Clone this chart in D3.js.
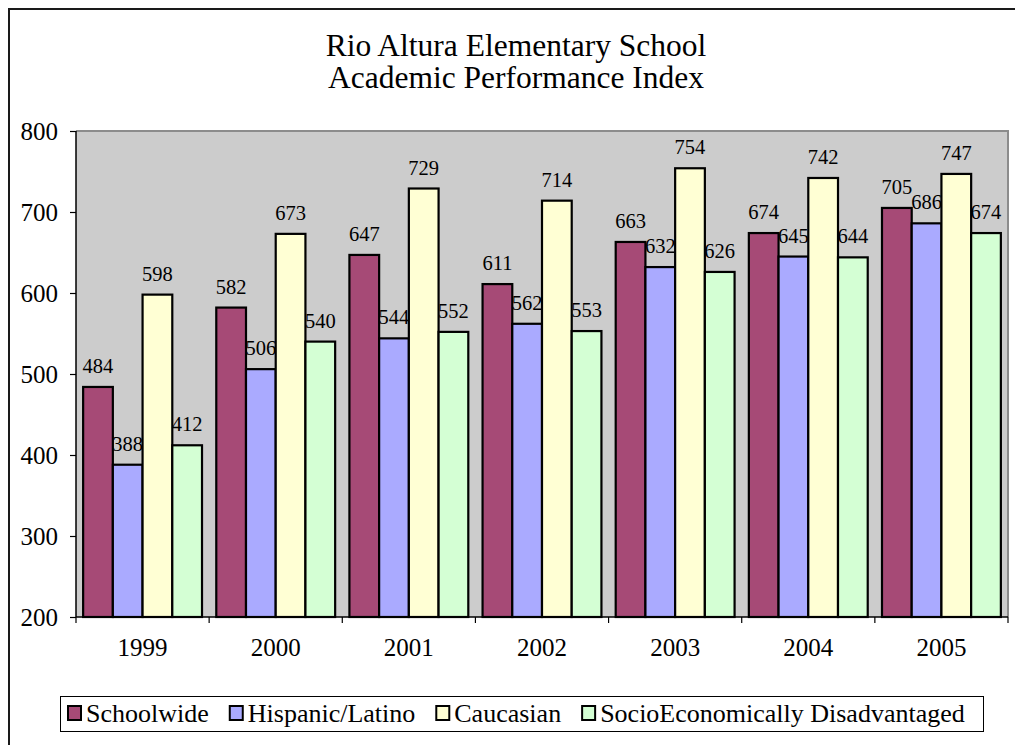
<!DOCTYPE html>
<html>
<head>
<meta charset="utf-8">
<script src="https://cdn.jsdelivr.net/npm/d3@7"></script>
<style>
    body { margin: 0; background: #fff; }
    svg { display: block; font-family: 'Liberation Serif', 'Times New Roman', serif; }
</style>
</head>
<body>
<div id="vis"></div>
<script>
const YEARS = ['1999', '2000', '2001', '2002', '2003', '2004', '2005']

const SERIES = ['Schoolwide', 'Hispanic/Latino', 'Caucasian', 'SocioEconomically Disadvantaged']

const SCHOOLWIDE = [484, 582, 647, 611, 663, 674, 705]
const HISPANIC = [388, 506, 544, 562, 632, 645, 686]
const CAUCASIAN = [598, 673, 729, 714, 754, 742, 747]
const SED = [412, 540, 552, 553, 626, 644, 674]

const Y_TICKS = [200, 300, 400, 500, 600, 700, 800]

const COLORS = ['#a64a76', '#aaaaff', '#ffffd4', '#d4ffd4']

function renderSvg() {
    return d3.select('#vis')
        .append('svg')
        .attr('width', 1015)
        .attr('height', 745)
}

function renderChart(svg) {
    let plot = {left: 76, right: 1008, top: 131, bottom: 617}
    let values = [SCHOOLWIDE, HISPANIC, CAUCASIAN, SED]

    // outer frame (runs off the right and bottom edges)
    svg.append('path')
        .attr('d', 'M9,760 V9 H1030')
        .attr('fill', 'none')
        .attr('stroke', '#1a1a1a')
        .attr('stroke-width', 2)

    let title = svg.append('text')
        .attr('text-anchor', 'middle')
        .attr('font-size', '31.5px')
        .attr('fill', '#000')
    title.append('tspan').attr('x', 516).attr('y', 56).text('Rio Altura Elementary School')
    title.append('tspan').attr('x', 516).attr('y', 88).text('Academic Performance Index')

    let x = d3.scaleBand()
        .domain(YEARS)
        .range([plot.left, plot.right])
        .paddingInner(0)

    let x1 = d3.scaleBand()
        .domain(SERIES)
        .range([0, x.bandwidth()])
        .paddingInner(0)
        .paddingOuter(0.24)

    let y = d3.scaleLinear()
        .domain([200, 800])
        .range([plot.bottom, plot.top])

    // plot area
    svg.append('rect')
        .attr('x', plot.left)
        .attr('y', plot.top)
        .attr('width', plot.right - plot.left)
        .attr('height', plot.bottom - plot.top)
        .attr('fill', '#cccccc')
    svg.append('path')
        .attr('d', `M${plot.left},${plot.top} H${plot.right} V${plot.bottom}`)
        .attr('fill', 'none')
        .attr('stroke', '#8c8c8c')
        .attr('stroke-width', 2)

    // bars
    let groups = svg.append('g')
        .selectAll('g')
        .data(YEARS)
        .enter().append('g')
        .attr('transform', d => `translate(${x(d)},0)`)

    groups.each(function (year, i) {
        let g = d3.select(this)
        let rows = SERIES.map((s, k) => ({series: s, value: values[k][i], color: COLORS[k]}))

        g.selectAll('rect')
            .data(rows)
            .enter().append('rect')
            .attr('x', d => x1(d.series))
            .attr('y', d => y(d.value))
            .attr('width', x1.bandwidth())
            .attr('height', d => y(200) - y(d.value))
            .attr('fill', d => d.color)
            .attr('stroke', '#000')
            .attr('stroke-width', 2.2)
    })

    groups.each(function (year, i) {
        let g = d3.select(this)
        let rows = SERIES.map((s, k) => ({series: s, value: values[k][i]}))

        g.selectAll('text')
            .data(rows)
            .enter().append('text')
            .attr('x', d => x1(d.series) + x1.bandwidth() / 2)
            .attr('y', d => y(d.value) - 14)
            .attr('text-anchor', 'middle')
            .attr('font-size', '20.5px')
            .attr('fill', '#000')
            .text(d => d.value)
    })

    // y axis
    let yAxis = d3.axisLeft(y)
        .tickValues(Y_TICKS)
        .tickSize(6)
        .tickPadding(12)
    let gy = svg.append('g')
        .attr('transform', `translate(${plot.left},0)`)
        .call(yAxis)
    gy.select('.domain').attr('stroke', '#000').attr('stroke-width', 1.5)
        .attr('d', `M0,${plot.top} V${plot.bottom}`)
    gy.selectAll('.tick line').attr('stroke', '#000').attr('stroke-width', 1.2)
    gy.selectAll('.tick text')
        .attr('font-family', 'Liberation Serif, Times New Roman, serif')
        .attr('font-size', '25px')
        .attr('fill', '#000')
        .attr('dy', '0.34em')

    // x axis
    let xAxis = d3.axisBottom(x).tickSize(0).tickPadding(0)
    let gx = svg.append('g')
        .attr('transform', `translate(0,${plot.bottom})`)
        .call(xAxis)
    gx.select('.domain').attr('stroke', '#000').attr('stroke-width', 1.5)
        .attr('d', `M${plot.left},0 H${plot.right}`)
    gx.selectAll('.tick line').remove()
    gx.selectAll('.tick text')
        .attr('font-family', 'Liberation Serif, Times New Roman, serif')
        .attr('font-size', '25px')
        .attr('fill', '#000')
        .attr('y', 39)
        .attr('dy', 0)
    gx.selectAll('.sep')
        .data(YEARS.concat(['end']))
        .enter().append('line')
        .attr('class', 'sep')
        .attr('x1', (d, i) => i < YEARS.length ? x(d) : plot.right)
        .attr('x2', (d, i) => i < YEARS.length ? x(d) : plot.right)
        .attr('y1', 0)
        .attr('y2', 6)
        .attr('stroke', '#000')
        .attr('stroke-width', 1.2)

    // legend
    let legend = svg.append('g')
    legend.append('rect')
        .attr('x', 60.5)
        .attr('y', 696.5)
        .attr('width', 923)
        .attr('height', 35)
        .attr('fill', '#fff')
        .attr('stroke', '#000')
        .attr('stroke-width', 1)

    let cx = 67
    SERIES.forEach((s, k) => {
        legend.append('rect')
            .attr('x', cx + 1)
            .attr('y', 706)
            .attr('width', 13)
            .attr('height', 14)
            .attr('fill', COLORS[k])
            .attr('stroke', '#000')
            .attr('stroke-width', 2)
        let t = legend.append('text')
            .attr('x', cx + 19)
            .attr('y', 722)
            .attr('font-size', '26px')
            .attr('fill', '#000')
            .text(s)
        cx += 19 + t.node().getComputedTextLength() + 20
    })
}

let svg = renderSvg()
renderChart(svg)
</script>
</body>
</html>
